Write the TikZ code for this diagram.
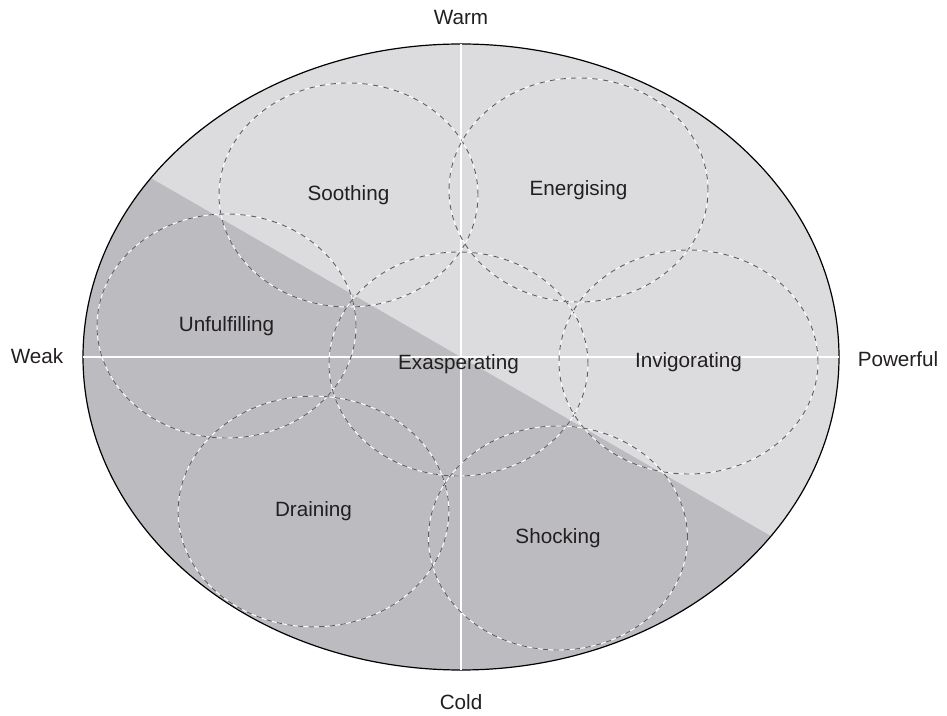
\documentclass[tikz,border=0pt]{standalone}
\usepackage{fontspec}
\setmainfont{Liberation Sans}
\usetikzlibrary{shapes.geometric,calc}

\definecolor{lightzone}{RGB}{220,220,222}
\definecolor{darkzone}{RGB}{188,188,192}
\definecolor{dashgrey}{RGB}{95,95,98}
\definecolor{inkgrey}{RGB}{35,31,32}

\tikzset{
  field/.style={ellipse, draw=black, line width=0.9pt, inner sep=0pt,
    minimum width=567pt, minimum height=469.5pt},
  mood/.style={ellipse, draw=dashgrey, line width=0.7pt,
    dash pattern=on 4pt off 4pt, preaction={draw=white, solid},
    inner sep=0pt, minimum width=194.25pt, minimum height=168pt,
    text=inkgrey, font=\fontsize{15.5}{18}\selectfont},
  pole/.style={text=inkgrey, font=\fontsize{15.5}{18}\selectfont, inner sep=0.75pt},
  axis/.style={white, line width=1.5pt, shorten <=0.5pt, shorten >=0.5pt}
}

\begin{document}
\begin{tikzpicture}[x=0.75pt,y=0.75pt,yscale=-1,xscale=1]
\useasboundingbox (0,0) rectangle (947,716);

%Shape: Ellipse [id:field] with its two zones
\node[field, path picture={
    \fill[darkzone] (path picture bounding box.south west) rectangle (path picture bounding box.north east);
    \fill[lightzone] ($(path picture bounding box.center)+(-420,242.5)$) -- ($(path picture bounding box.center)+(420,-242.5)$)
      -- (path picture bounding box.north east) -- (path picture bounding box.north west) -- cycle;
  }] (field) at (461,357) {};

%Straight Lines [id:axes]
\draw[axis] (field.west) -- (field.east);
\draw[axis] (field.north) -- (field.south);

%Shape: Ellipse [id:moods]
\node[mood] (soothing) at (348.5,195) {Soothing};
\node[mood] (energising) at (578.5,190) {Energising};
\node[mood] (unfulfilling) at (226.5,326) {Unfulfilling};
\node[mood] (exasperating) at (458.5,364) {Exasperating};
\node[mood] (invigorating) at (688.5,362) {Invigorating};
\node[mood, minimum width=203pt, minimum height=173pt] (draining) at (313.5,511.5) {Draining};
\node[mood] (shocking) at (558,538) {Shocking};

% Text Node
\node[pole] (warm) at (461,17) {Warm};
% Text Node
\node[pole] (cold) at (461,702) {Cold};
% Text Node
\node[pole] (weak) at (37,356) {Weak};
% Text Node
\node[pole] (powerful) at (898,359) {Powerful};

\end{tikzpicture}
\end{document}
